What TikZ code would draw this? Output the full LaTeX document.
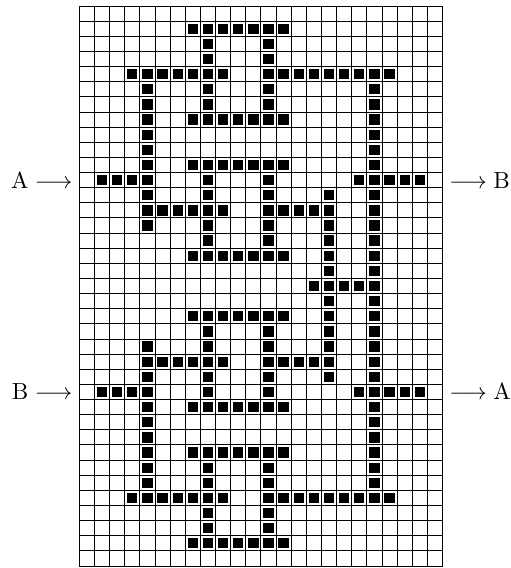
\documentclass[tikz,border=0pt]{standalone}
\usepackage{amsmath,amssymb}
\usepackage{xcolor}
\usepackage{tikz}
\usetikzlibrary{positioning}
\definecolor{inkc}{HTML}{000000}
\tikzset{
  gline/.style={draw=inkc,line width=0.45pt},
  gcell/.style={fill=inkc},
  lbl/.style={inner sep=3pt,font=\fontsize{10.95}{13.6}\selectfont}
}

\begin{document}
\begin{tikzpicture}[x=0.25cm,y=0.25cm]
\useasboundingbox (-5.24,-0.13) rectangle (28.51,37.4);
\draw[gline,step=0.25cm] (0,0) grid (24,37);
\foreach \r/\cs in {1/{7,...,13},2/{8,12},3/{8,12},4/{3,...,9,12,13,...,20},
 5/{4,8,12,19},6/{4,8,12,19},7/{4,7,8,...,13,19},8/{4,19},9/{4,19},
 10/{4,7,8,...,13,19},11/{1,2,3,4,8,12,18,19,...,22},12/{4,8,12,16,19},
 13/{4,5,...,9,12,13,...,16,19},14/{4,8,12,16,19},15/{8,12,16,19},
 16/{7,8,...,13,16,19},17/{16,19},18/{15,...,19},19/{16,19},
 20/{7,8,...,13,16,19},21/{8,12,16,19},22/{4,8,12,16,19},
 23/{4,5,...,9,12,13,...,16,19},24/{4,8,12,16,19},25/{1,2,3,4,8,12,18,19,...,22},
 26/{4,7,8,...,13,19},27/{4,19},28/{4,19},29/{4,7,8,...,13,19},
 30/{4,8,12,19},31/{4,8,12,19},32/{3,...,9,12,13,...,20},33/{8,12},34/{8,12},
 35/{7,...,13}}{
 \foreach \c in \cs
  \fill[gcell] (\c+0.16,36-\r+0.16) rectangle (\c+0.84,37-\r-0.16);}
% entries and exits
\node[lbl,anchor=east] (inA) at (0,25.5) {$\mathrm{A}\longrightarrow$};
\node[lbl,anchor=west] (outB) at (24,25.5) {$\longrightarrow\mathrm{B}$};
\node[lbl,anchor=east] (inB) at (0,11.5) {$\mathrm{B}\longrightarrow$};
\node[lbl,anchor=west] (outA) at (24,11.5) {$\longrightarrow\mathrm{A}$};
\end{tikzpicture}
\end{document}
